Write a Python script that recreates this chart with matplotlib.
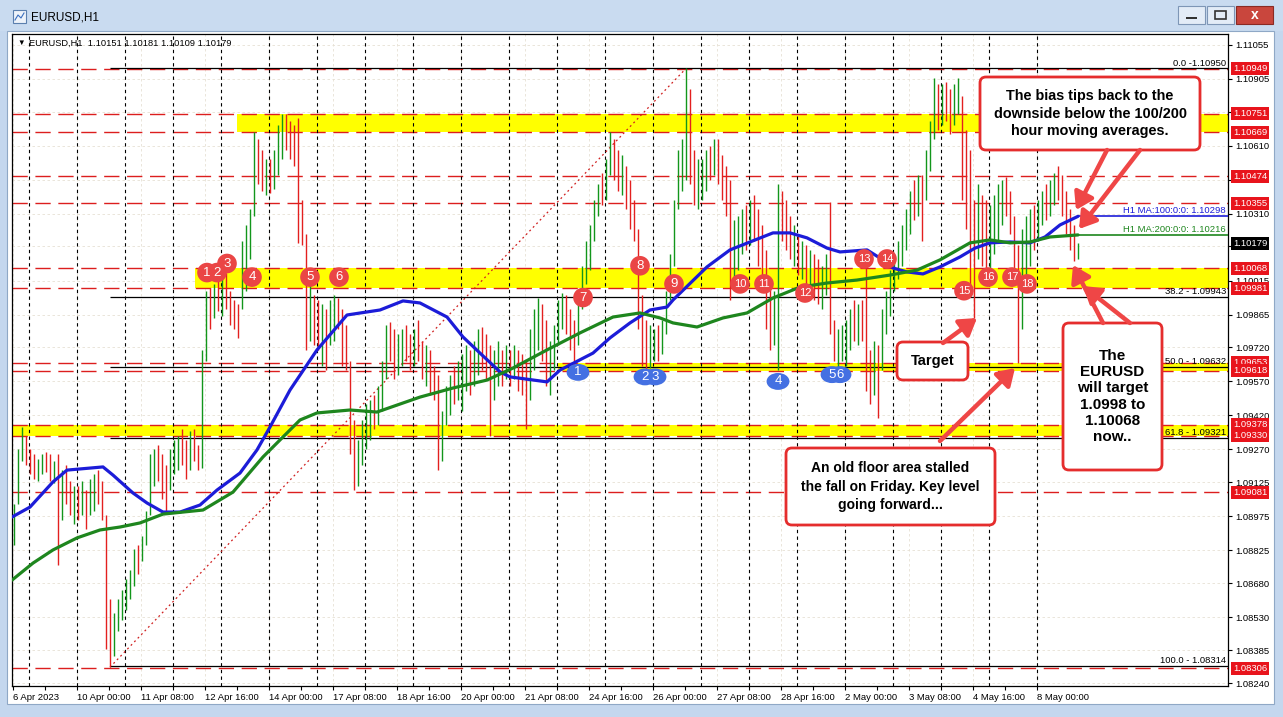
import numpy as np
import matplotlib.pyplot as plt
from matplotlib.patches import Rectangle, FancyBboxPatch, FancyArrowPatch
from matplotlib.transforms import IdentityTransform, blended_transform_factory, Affine2D
from matplotlib.path import Path

plt.rcParams['font.family'] = ['Liberation Sans', 'DejaVu Sans']

# ---------------- EURUSD H1 (2-hour steps) ----------------
hi = [1.0903, 1.0927, 1.0937, 1.0933,
      1.0927, 1.0925, 1.0923, 1.0925, 1.0926, 1.0925, 1.0922, 1.0925, 1.0918, 1.0920, 1.0913, 1.0911,
      1.0911, 1.0913, 1.0909, 1.0914, 1.0916, 1.0918, 1.0913, 1.0898, 1.0861, 1.0855, 1.0861, 1.0865,
      1.0870, 1.0874, 1.0883, 1.0885, 1.0889, 1.0900, 1.0925, 1.0927, 1.0929, 1.0925, 1.0920, 1.0927,
      1.0931, 1.0933, 1.0936, 1.0931, 1.0935, 1.0936, 1.0929, 1.0971, 1.0997, 1.0998, 1.1000, 1.1002,
      1.1005, 1.1005, 1.0997, 1.0993, 1.0991, 1.1019, 1.1026, 1.1033, 1.1067, 1.1064, 1.1059, 1.1055,
      1.1055, 1.1059, 1.1070, 1.1075, 1.1075, 1.1072, 1.1070, 1.1073, 1.1037, 1.1022, 1.1000, 1.0995,
      1.0993, 1.0991, 1.0989, 1.0993, 1.0995, 1.0994, 1.0989, 1.0982, 1.0966, 1.0940, 1.0931, 1.0940,
      1.0947, 1.0949, 1.0951, 1.0955, 1.0966, 1.0982, 1.0983, 1.0980, 1.0978, 1.0980, 1.0982, 1.0978,
      1.0980, 1.0984, 1.0975, 1.0973, 1.0971, 1.0964, 1.0960, 1.0944, 1.0955, 1.0960, 1.0964, 1.0966,
      1.0969, 1.0973, 1.0971, 1.0975, 1.0980, 1.0981, 1.0978, 1.0973, 1.0971, 1.0975, 1.0971, 1.0973,
      1.0971, 1.0973, 1.0971, 1.0969, 1.0966, 1.0980, 1.0989, 1.0994, 1.0991, 1.0984, 1.0975, 1.0982,
      1.0993, 1.0996, 1.0995, 1.0989, 1.0984, 1.0993, 1.1008, 1.1019, 1.1026, 1.1037, 1.1044, 1.1049,
      1.1055, 1.1067, 1.1064, 1.1059, 1.1057, 1.1052, 1.1046, 1.1037, 1.1024, 1.0995, 1.0984, 1.0982,
      1.0980, 1.0982, 1.0984, 1.0997, 1.1013, 1.1037, 1.1059, 1.1064, 1.1095, 1.1086, 1.1059, 1.1055,
      1.1055, 1.1059, 1.1061, 1.1064, 1.1064, 1.1057, 1.1052, 1.1046, 1.1028, 1.1030, 1.1033, 1.1035,
      1.1037, 1.1039, 1.1033, 1.1026, 1.1015, 1.1002, 1.0997, 1.1044, 1.1041, 1.1037, 1.1030, 1.1026,
      1.1022, 1.1019, 1.1017, 1.1015, 1.1013, 1.1011, 1.1008, 1.1013, 1.1036, 1.0984, 1.0980, 1.0982,
      1.0984, 1.0989, 1.0993, 1.0991, 1.0993, 1.1007, 1.0971, 1.0975, 1.0973, 1.0989, 1.0997, 1.1006,
      1.1013, 1.1019, 1.1026, 1.1033, 1.1041, 1.1046, 1.1048, 1.1048, 1.1059, 1.1072, 1.1091, 1.1088,
      1.1088, 1.1089, 1.1086, 1.1088, 1.1091, 1.1083, 1.1068, 1.1059, 1.1037, 1.1044, 1.1039, 1.1037,
      1.1035, 1.1039, 1.1044, 1.1046, 1.1047, 1.1041, 1.1030, 1.1017, 1.1024, 1.1030, 1.1033, 1.1035,
      1.1037, 1.1041, 1.1044, 1.1046, 1.1049, 1.1052, 1.1048, 1.1041, 1.1033, 1.1026, 1.1018]
lo = [1.0885, 1.0903, 1.0922, 1.0920,
      1.0916, 1.0914, 1.0913, 1.0916, 1.0917, 1.0913, 1.0912, 1.0876, 1.0896, 1.0903, 1.0898, 1.0894,
      1.0896, 1.0898, 1.0892, 1.0898, 1.0900, 1.0903, 1.0896, 1.0839, 1.0831, 1.0836, 1.0847, 1.0852,
      1.0856, 1.0861, 1.0867, 1.0872, 1.0878, 1.0885, 1.0898, 1.0911, 1.0913, 1.0905, 1.0900, 1.0909,
      1.0916, 1.0918, 1.0920, 1.0914, 1.0918, 1.0922, 1.0918, 1.0919, 1.0966, 1.0980, 1.0985, 1.0988,
      1.0986, 1.0989, 1.0982, 1.0980, 1.0976, 1.0989, 1.0997, 1.1011, 1.1030, 1.1044, 1.1041, 1.1039,
      1.1040, 1.1042, 1.1048, 1.1055, 1.1059, 1.1055, 1.1052, 1.1018, 1.1017, 1.0971, 1.0975, 1.0973,
      1.0971, 1.0964, 1.0962, 1.0973, 1.0975, 1.0980, 1.0964, 1.0962, 1.0925, 1.0909, 1.0911, 1.0920,
      1.0927, 1.0931, 1.0936, 1.0938, 1.0944, 1.0958, 1.0966, 1.0958, 1.0960, 1.0964, 1.0966, 1.0962,
      1.0964, 1.0966, 1.0958, 1.0955, 1.0951, 1.0949, 1.0918, 1.0922, 1.0938, 1.0942, 1.0947, 1.0949,
      1.0944, 1.0953, 1.0951, 1.0955, 1.0960, 1.0962, 1.0958, 1.0933, 1.0949, 1.0955, 1.0955, 1.0958,
      1.0955, 1.0958, 1.0953, 1.0951, 1.0936, 1.0949, 1.0962, 1.0971, 1.0966, 1.0955, 1.0951, 1.0962,
      1.0973, 1.0980, 1.0978, 1.0971, 1.0964, 1.0973, 1.0989, 1.1000, 1.1006, 1.1019, 1.1030, 1.1035,
      1.1037, 1.1048, 1.1046, 1.1041, 1.1039, 1.1033, 1.1024, 1.1019, 1.0980, 1.0964, 1.0962, 1.0963,
      1.0966, 1.0966, 1.0969, 1.0978, 1.0993, 1.1008, 1.1033, 1.1041, 1.1046, 1.1044, 1.1035, 1.1033,
      1.1037, 1.1041, 1.1046, 1.1048, 1.1044, 1.1037, 1.1030, 1.0993, 1.1000, 1.1006, 1.1013, 1.1015,
      1.1017, 1.1019, 1.1008, 1.1000, 1.0980, 1.0971, 1.0973, 1.0962, 1.1019, 1.1015, 1.1011, 1.1008,
      1.1004, 1.1002, 1.1000, 1.1000, 1.0993, 1.0991, 1.0989, 1.0995, 1.0978, 1.0966, 1.0963, 1.0966,
      1.0964, 1.0971, 1.0975, 1.0973, 1.0975, 1.0953, 1.0947, 1.0951, 1.0941, 1.0962, 1.0978, 1.0986,
      1.0997, 1.1002, 1.1008, 1.1015, 1.1022, 1.1028, 1.1030, 1.1019, 1.1037, 1.1050, 1.1064, 1.1068,
      1.1070, 1.1072, 1.1066, 1.1070, 1.1075, 1.1037, 1.1024, 1.0997, 1.0985, 1.1011, 1.1008, 1.1004,
      1.1006, 1.1013, 1.1019, 1.1026, 1.1030, 1.1022, 1.1004, 1.0965, 1.0980, 1.1002, 1.1008, 1.1015,
      1.1019, 1.1026, 1.1028, 1.1030, 1.1035, 1.1037, 1.1030, 1.1022, 1.1015, 1.1010, 1.1011]
cl = [1.0897, 1.0920, 1.0933, 1.0924,
      1.0919, 1.0917, 1.0921, 1.0923, 1.0920, 1.0916, 1.0920, 1.0903, 1.0913, 1.0907, 1.0901, 1.0909,
      1.0899, 1.0910, 1.0896, 1.0911, 1.0914, 1.0906, 1.0898, 1.0847, 1.0836, 1.0853, 1.0858, 1.0863,
      1.0868, 1.0872, 1.0880, 1.0875, 1.0887, 1.0898, 1.0922, 1.0925, 1.0918, 1.0908, 1.0905, 1.0923,
      1.0929, 1.0931, 1.0925, 1.0918, 1.0931, 1.0925, 1.0920, 1.0966, 1.0994, 1.0985, 1.0996, 1.0991,
      1.1002, 1.0992, 1.0985, 1.0982, 1.0979, 1.1016, 1.1023, 1.1030, 1.1059, 1.1048, 1.1045, 1.1051,
      1.1044, 1.1056, 1.1067, 1.1072, 1.1064, 1.1059, 1.1056, 1.1024, 1.1020, 1.0978, 1.0995, 1.0978,
      1.0975, 1.0986, 1.0969, 1.0989, 1.0993, 1.0982, 1.0969, 1.0966, 1.0931, 1.0914, 1.0927, 1.0936,
      1.0944, 1.0947, 1.0939, 1.0953, 1.0963, 1.0979, 1.0971, 1.0961, 1.0974, 1.0978, 1.0970, 1.0966,
      1.0978, 1.0971, 1.0961, 1.0970, 1.0955, 1.0952, 1.0925, 1.0941, 1.0952, 1.0958, 1.0951, 1.0964,
      1.0966, 1.0971, 1.0955, 1.0973, 1.0978, 1.0966, 1.0961, 1.0951, 1.0967, 1.0973, 1.0959, 1.0971,
      1.0959, 1.0970, 1.0957, 1.0954, 1.0951, 1.0975, 1.0985, 1.0991, 1.0971, 1.0960, 1.0971, 1.0979,
      1.0991, 1.0994, 1.0982, 1.0974, 1.0969, 1.0991, 1.1006, 1.1017, 1.1024, 1.1035, 1.1041, 1.1038,
      1.1052, 1.1064, 1.1049, 1.1045, 1.1054, 1.1037, 1.1028, 1.1023, 1.0984, 1.0969, 1.0966, 1.0975,
      1.0978, 1.0970, 1.0982, 1.0995, 1.1010, 1.1034, 1.1056, 1.1060, 1.1072, 1.1048, 1.1039, 1.1051,
      1.1052, 1.1057, 1.1049, 1.1061, 1.1047, 1.1040, 1.1035, 1.1000, 1.1025, 1.1028, 1.1030, 1.1018,
      1.1035, 1.1023, 1.1013, 1.1004, 1.0984, 1.0974, 1.0994, 1.1037, 1.1023, 1.1019, 1.1014, 1.1023,
      1.1007, 1.1017, 1.1004, 1.1013, 1.0996, 1.0994, 1.1006, 1.1011, 1.0982, 1.0970, 1.0978, 1.0981,
      1.0982, 1.0986, 1.0979, 1.0989, 1.0980, 1.0958, 1.0950, 1.0973, 1.0949, 1.0985, 1.0995, 1.1004,
      1.1011, 1.1017, 1.1024, 1.1030, 1.1039, 1.1032, 1.1046, 1.1033, 1.1057, 1.1070, 1.1088, 1.1072,
      1.1086, 1.1076, 1.1070, 1.1086, 1.1089, 1.1044, 1.1030, 1.1006, 1.1005, 1.1037, 1.1015, 1.1011,
      1.1030, 1.1037, 1.1041, 1.1045, 1.1035, 1.1026, 1.1010, 1.0989, 1.1019, 1.1027, 1.1030, 1.1019,
      1.1035, 1.1039, 1.1032, 1.1044, 1.1048, 1.1040, 1.1033, 1.1025, 1.1017, 1.1014, 1.1018]

# last hourly bar shown in the header: open, high, low, close
last_ohlc = [1.10151, 1.10181, 1.10109, 1.10179]

# moving averages (hour index, value)
ma100_x = [-0.5, 8.5, 20, 27, 45, 50, 60, 67, 75, 83.5, 93.5, 102, 113.5, 122, 128.5, 138.5, 152, 167,
           183.5, 195, 203.5, 217, 225, 233.5, 243.5, 248.5, 267, 273.5, 290, 298.5, 308.5, 318.5, 327,
           330, 347, 358.5, 368.5, 380, 388.5, 397, 407, 413.5, 427, 433.5, 440, 447, 455, 463.5, 473.5,
           481, 488.5, 498.5, 508.5, 516, 523.5, 532.5]
ma100 = [1.08972, 1.09016, 1.09127, 1.09179, 1.09193, 1.09157, 1.09078, 1.09034, 1.08994, 1.08994,
         1.09025, 1.09091, 1.09166, 1.09268, 1.09369, 1.09532, 1.09709, 1.09863, 1.09885, 1.09925,
         1.09916, 1.09854, 1.09766, 1.09695, 1.09612, 1.09590, 1.09568, 1.09620, 1.09695, 1.09762,
         1.09828, 1.09885, 1.09898, 1.09929, 1.10075, 1.10150, 1.10185, 1.10225, 1.10225, 1.10203,
         1.10158, 1.10141, 1.10150, 1.10114, 1.10070, 1.10053, 1.10044, 1.10075, 1.10119, 1.10158,
         1.10181, 1.10185, 1.10181, 1.10207, 1.10260, 1.10298]
ma200_x = [-0.5, 10, 20, 32, 43.5, 53.5, 63.5, 75, 95, 110, 125, 143.5, 152, 168.5, 182, 203.5, 220,
           237, 250, 267, 283.5, 300, 313.5, 323.5, 330, 342, 355, 367, 380, 393.5, 407, 422, 438.5,
           452, 463.5, 478.5, 488.5, 498.5, 508.5, 518.5, 532.5]
ma200 = [1.08694, 1.08769, 1.08827, 1.08880, 1.08915, 1.08928, 1.08946, 1.08985, 1.09003, 1.09082,
         1.09237, 1.09400, 1.09431, 1.09444, 1.09435, 1.09501, 1.09541, 1.09576, 1.09629, 1.09709,
         1.09784, 1.09854, 1.09872, 1.09850, 1.09828, 1.09810, 1.09850, 1.09872, 1.09938, 1.09986,
         1.10004, 1.10017, 1.10039, 1.10061, 1.10106, 1.10181, 1.10194, 1.10181, 1.10185, 1.10207,
         1.10216]

levels = [1.10949, 1.10751, 1.10669, 1.10474, 1.10355, 1.10068, 1.09981,
          1.09653, 1.09618, 1.09378, 1.09330, 1.09081, 1.08306]
band_lo = [1.10669, 1.09981, 1.09618, 1.09330]
band_hi = [1.10751, 1.10068, 1.09653, 1.09378]
band_from = [112, 91, 272.5, -0.5]

fib_vals = [1.10950, 1.09943, 1.09632, 1.09321, 1.08314]
fib_text = ['0.0 -1.10950', '38.2 - 1.09943', '50.0 - 1.09632', '61.8 - 1.09321', '100.0 - 1.08314']

yticks = [1.11055, 1.10905, 1.10760, 1.10610, 1.10460, 1.10310, 1.10165, 1.10015, 1.09865, 1.09720,
          1.09570, 1.09420, 1.09270, 1.09125, 1.08975, 1.08825, 1.08680, 1.08530, 1.08385, 1.08240]
# scale values hidden behind the price tags in the screenshot
yticks_hidden = [1.10760, 1.10460, 1.10165]
xtick_lab = ['6 Apr 2023', '10 Apr 00:00', '11 Apr 08:00', '12 Apr 16:00', '14 Apr 00:00',
             '17 Apr 08:00', '18 Apr 16:00', '20 Apr 00:00', '21 Apr 08:00', '24 Apr 16:00',
             '26 Apr 00:00', '27 Apr 08:00', '28 Apr 16:00', '2 May 00:00', '3 May 08:00',
             '4 May 16:00', '8 May 00:00']
xtick_pos = list(range(0, 513, 32))
day_starts = list(range(8, 513, 24))

red_x = [97, 102, 107, 119.5, 148.5, 163, 285, 313.5, 330.5, 363.5, 375.5, 396, 425.5, 437, 475.5,
         487.5, 499.5, 507]
red_y = [1.1005, 1.1005, 1.1009, 1.1003, 1.1003, 1.1003, 1.0994, 1.1008, 1.1000, 1.1000, 1.1000,
         1.0996, 1.1011, 1.1011, 1.0997, 1.1003, 1.1003, 1.1000]
blue_x = [282.5, 316, 321, 382.5, 409.5, 413.5]
blue_y = [1.0961, 1.0959, 1.0959, 1.0957, 1.0960, 1.0960]

# ---------------- window ----------------
W, H = 1283, 717
fig = plt.figure(figsize=(W / 100, H / 100), dpi=100)
fig.patch.set_facecolor('#c4d7ee')
PX = IdentityTransform()


def rect(x0, y0, x1, y1, **kw):
    fig.add_artist(Rectangle((x0, H - y1), x1 - x0, y1 - y0, transform=PX, **kw))


rect(0, 0, W, 31, fc='#c9dbf0', ec='none', zorder=-2)
rect(7, 31, 1274, 704, fc='white', ec='#8fa8c6', lw=0.8, zorder=-1)
# title icon + title
rect(13, 10, 26, 23, fc='#eef3fa', ec='#5b7fae', lw=0.8, zorder=1)
fig.add_artist(plt.Line2D([15, 18, 21, 24], [H - 20, H - 15, H - 18, H - 13], transform=PX,
                          color='#3a6fc0', lw=0.8))
fig.text(31 / W, 1 - 17 / H, 'EURUSD,H1', fontsize=8.5, va='center', color='black')
# window buttons
rect(1178, 6, 1205, 24, fc='#e3ecf7', ec='#7e96b6', lw=0.8, zorder=1)
rect(1207, 6, 1234, 24, fc='#e3ecf7', ec='#7e96b6', lw=0.8, zorder=1)
rect(1236, 6, 1273, 24, fc='#c9463d', ec='#8a2a24', lw=0.8, zorder=1)
rect(1186, 17, 1197, 19, fc='#333333', ec='none', zorder=2)
rect(1215, 11, 1226, 19, fc='none', ec='#333333', lw=1.2, zorder=2)
fig.text(1254.5 / W, 1 - 15 / H, 'x', fontsize=10, fontweight='bold', color='white',
         ha='center', va='center')

# ---------------- chart ----------------
ax = fig.add_axes([12 / W, 1 - 686 / H, 1216 / W, 652 / H])
ax.set_xlim(-0.5, 607.5)
ax.set_ylim(1.08227, 1.11102)
for s in ax.spines.values():
    s.set_linewidth(0.9)
    s.set_color('black')

# light grid
ax.hlines(yticks, -0.5, 607.5, colors='#e6e0d4', lw=0.6, ls=(0, (3, 3)), zorder=0.5)
ax.vlines(xtick_pos, 1.08227, 1.11102, colors='#e6e0d4', lw=0.6, ls=(0, (3, 3)), zorder=0.5)

# yellow zones
for b0, b1, xs in zip(band_lo, band_hi, band_from):
    ax.fill_between([xs, 607.5], b0, b1, color='#ffff00', lw=0, zorder=1)

# red dashed levels
for lv in levels:
    ax.axhline(lv, color='#dc1e1e', lw=1.0, ls=(0, (11, 5.5)), zorder=2)

# day separators
ax.vlines(day_starts, 1.08227, 1.11102, colors='black', lw=0.8, ls=(0, (3, 3)), zorder=2)

# fibonacci retracement
fib_start = 48.5
ax.hlines(fib_vals, fib_start, 607.5, colors='black', lw=0.9, zorder=2.2)
for v, t in zip(fib_vals, fib_text):
    ax.text(606.5, v + 0.00004, t, ha='right', va='bottom', fontsize=6.8, zorder=5)
ax.plot([fib_start, 336.5], [min(lo), max(hi)], color='#d02020', lw=0.9,
        ls=(0, (1.5, 2.5)), zorder=2.1)

# price bars
bx = np.arange(len(hi)) * 2 + 0.5
op = [cl[0]] + cl[:-1]
bar_col = ['#12961b' if c >= o else '#e3201f' for o, c in zip(op, cl)]
ax.vlines(bx, lo, hi, colors=bar_col, lw=1.0, zorder=3)

# moving averages
ax.plot(ma100_x, ma100, color='#1c1cd8', lw=2.3, zorder=4, solid_capstyle='round')
ax.plot(ma200_x, ma200, color='#1e861e', lw=2.3, zorder=4, solid_capstyle='round')
ax.hlines(ma100[-1], ma100_x[-1], 607.5, colors='#1c1cd8', lw=1.2, zorder=4)
ax.hlines(ma200[-1], ma200_x[-1], 607.5, colors='#1e861e', lw=1.2, zorder=4)
ax.text(606.5, ma100[-1] + 0.00004, f'H1 MA:100:0:0: {ma100[-1]:.5f}', ha='right', va='bottom',
        fontsize=6.8, color='#1c1cd8', zorder=5)
ax.text(606.5, ma200[-1] + 0.00004, f'H1 MA:200:0:0: {ma200[-1]:.5f}', ha='right', va='bottom',
        fontsize=6.8, color='#1e861e', zorder=5)

# numbered touches
ax.scatter(red_x, red_y, s=200, c='#ea4545', edgecolors='none', zorder=6)
for k, (x, y) in enumerate(zip(red_x, red_y), 1):
    ax.text(x, y, str(k), color='white', fontsize=9.5 if k < 10 else 8,
            ha='center', va='center', zorder=7)
ell = Path.unit_circle().transformed(Affine2D().scale(1.35, 1.0))
for k, (x, y) in enumerate(zip(blue_x, blue_y), 1):
    ax.scatter([x], [y], s=270, c='#4470e2', marker=ell, edgecolors='none', zorder=6)
    ax.text(x, y, str(k), color='white', fontsize=9.5, ha='center', va='center', zorder=7)

# axes ticks
ax.yaxis.tick_right()
ax.set_yticks(yticks)
ax.set_yticklabels(['' if v in yticks_hidden else f'{v:.5f}' for v in yticks])
ax.tick_params(axis='y', direction='out', length=3, width=0.8, labelsize=6.8, pad=2)
ax.set_xticks(xtick_pos)
ax.set_xticklabels(xtick_lab, ha='left')
ax.set_xticks(list(range(16, 513, 32)), minor=True)
ax.tick_params(axis='x', which='both', direction='out', length=3, width=0.8, labelsize=6.8, pad=2)

# price labels on the right scale
tr = blended_transform_factory(ax.transAxes, ax.transData)
for lv in levels:
    ax.annotate(f'{lv:.5f}', xy=(1, lv), xycoords=tr, xytext=(3.5, 0), textcoords='offset points',
                ha='left', va='center', fontsize=6.8, color='white', zorder=10,
                annotation_clip=False,
                bbox=dict(boxstyle='square,pad=0.22', fc='#e8141c', ec='none'))
ax.annotate(f'{last_ohlc[3]:.5f}', xy=(1, last_ohlc[3]), xycoords=tr, xytext=(3.5, 0),
            textcoords='offset points', ha='left', va='center', fontsize=6.8, color='white',
            zorder=10, annotation_clip=False,
            bbox=dict(boxstyle='square,pad=0.22', fc='black', ec='none'))

# chart header
fig.text(17 / W, 1 - 43 / H, '\u25bc', fontsize=5.5, va='center')
fig.text(29 / W, 1 - 43 / H, 'EURUSD,H1  ' + ' '.join(f'{v:.5f}' for v in last_ohlc),
         fontsize=6.7, va='center')

# ---------------- call-outs ----------------
def callout(x0, y0, x1, y1, txt, ls=1.3, fs=10):
    fig.add_artist(FancyBboxPatch((x0, H - y1), x1 - x0, y1 - y0, transform=PX,
                                  boxstyle='round,pad=0,rounding_size=6',
                                  fc='white', ec='#e52d2d', lw=2, zorder=15))
    fig.text((x0 + x1) / 2 / W, 1 - (y0 + y1) / 2 / H, txt, ha='center', va='center',
             fontsize=fs, fontweight='bold', linespacing=ls, zorder=17)


def arrow(xa, ya, xb, yb):
    fig.add_artist(FancyArrowPatch((xa, H - ya), (xb, H - yb), transform=PX,
                                   arrowstyle='-|>,head_length=0.55,head_width=0.35',
                                   mutation_scale=18, lw=3.2, color='#ef4646',
                                   shrinkA=0, shrinkB=0, zorder=16))


callout(980, 77, 1200, 150, 'The bias tips back to the\ndownside below the 100/200\nhour moving averages.',
        fs=10.4)
arrow(1107, 150, 1076, 210)
arrow(1140, 150, 1079, 229)

callout(1063, 323, 1162, 470, 'The\nEURUSD\nwill target\n1.0998 to\n1.10068\nnow..',
        ls=1.2, fs=11)
arrow(1103, 323, 1073, 265)
arrow(1130, 323, 1083, 286)

callout(897, 342, 968, 380, 'Target', fs=10.5)
arrow(943, 343, 977, 318)

callout(786, 448, 995, 525, 'An old floor area stalled\nthe fall on Friday. Key level\ngoing forward...', ls=1.45)
arrow(940, 441, 1015, 368)

fig.savefig('out.png', dpi=100)
